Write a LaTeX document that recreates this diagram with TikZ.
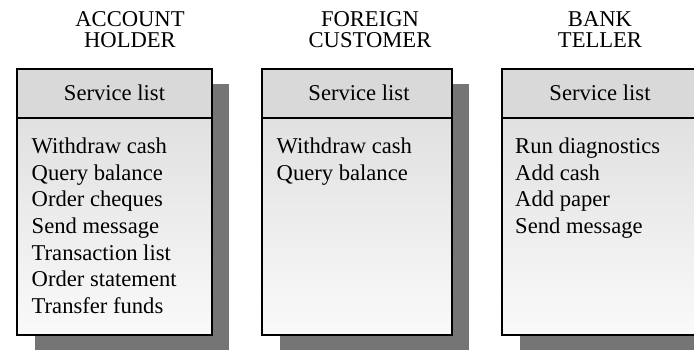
\documentclass[tikz,border=0pt]{standalone}
\usepackage{fontspec}
\setmainfont{Liberation Serif}
\begin{document}
\begin{tikzpicture}[x=1pt,y=-1pt,
  txt/.style={inner sep=0pt, font=\fontsize{22.6}{26.7}\selectfont},
  item/.style={txt, anchor=base west},
  ttl/.style={txt, anchor=base},
  shadowfill/.style={fill=black!54},
  headfill/.style={fill=black!15},
  bodyfill/.style={top color=black!12, bottom color=black!2},
  frame/.style={draw=black, line width=2pt}]
\useasboundingbox (0,0) rectangle (694,349);
\clip (0,0) rectangle (694,349);
\def\drawpanel#1#2{%
  \fill[shadowfill] ({#1+18},84) rectangle ({#2+17},352);
  \fill[headfill] (#1,68.5) rectangle (#2,118);
  \shade[bodyfill] (#1,118) rectangle (#2,335);
  \draw[frame] (#1,68.5) rectangle (#2,335);
  \draw[frame] (#1,118) -- (#2,118);
}
\drawpanel{17}{212}
\drawpanel{262}{452}
\drawpanel{502}{697}
% titles
\node[ttl] (t1a) at (130,26) {ACCOUNT};
\node[ttl] (t1b) at (130,47.2) {HOLDER};
\node[ttl] (t2a) at (370,26) {FOREIGN};
\node[ttl] (t2b) at (370,47.2) {CUSTOMER};
\node[ttl] (t3a) at (600,26) {BANK};
\node[ttl] (t3b) at (600,47.2) {TELLER};
% headers
\node[ttl] (h1) at (114.5,100) {Service list};
\node[ttl] (h2) at (359,100) {Service list};
\node[ttl] (h3) at (600,100) {Service list};
% items
\foreach \t [count=\i] in {Withdraw cash, Query balance, Order cheques, Send message, Transaction list, Order statement, Transfer funds}
  \node[item] (a\i) at (31.5,{153.3+26.7*(\i-1)}) {\t};
\foreach \t [count=\i] in {Withdraw cash, Query balance}
  \node[item] (b\i) at (276.5,{153.3+26.7*(\i-1)}) {\t};
\foreach \t [count=\i] in {Run diagnostics, Add cash, Add paper, Send message}
  \node[item] (c\i) at (515,{153.3+26.7*(\i-1)}) {\t};
\end{tikzpicture}
\end{document}
